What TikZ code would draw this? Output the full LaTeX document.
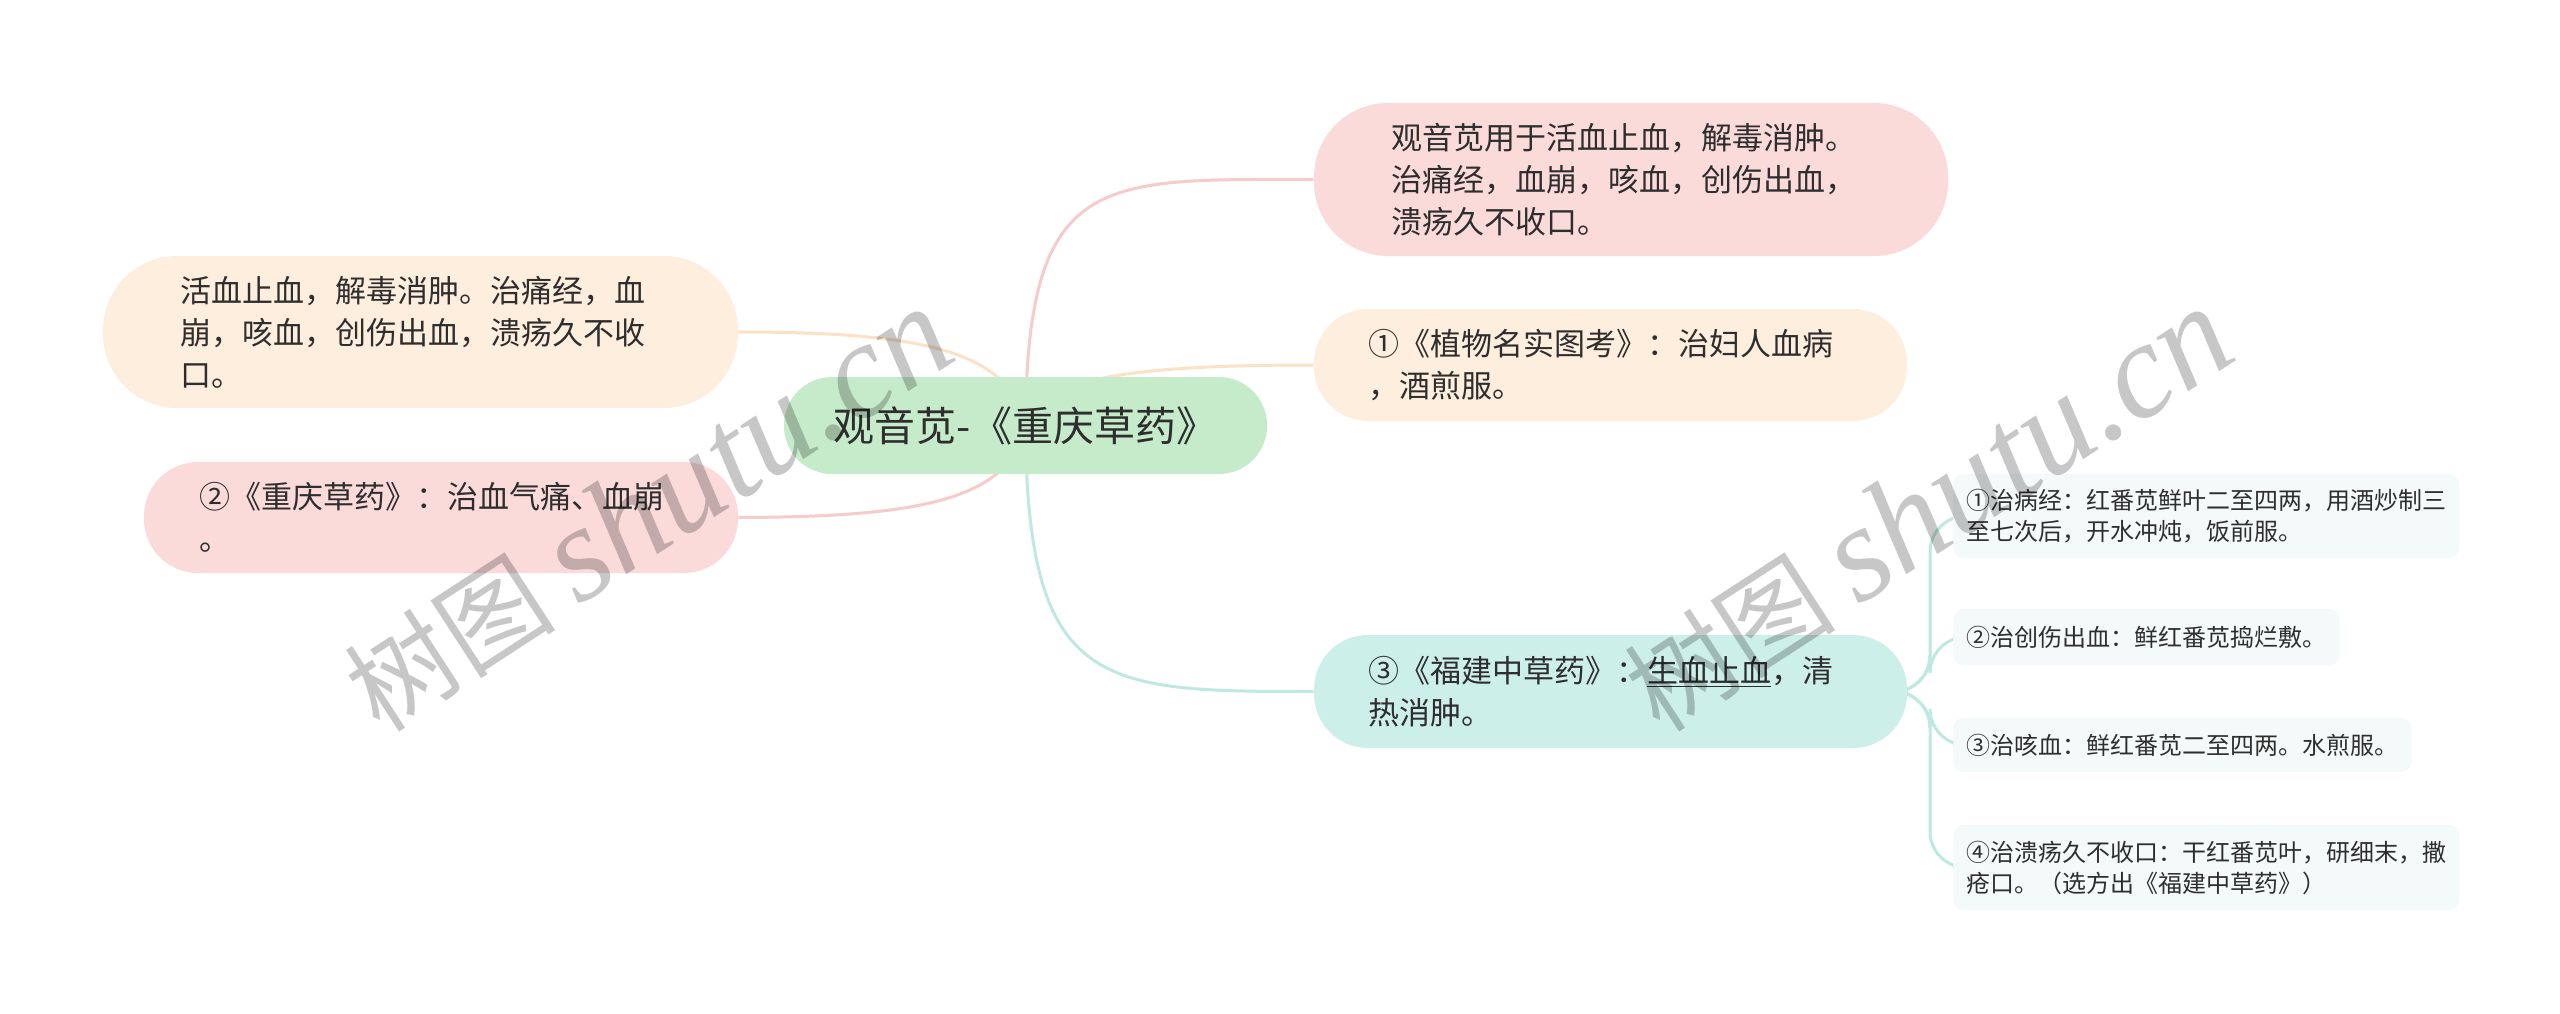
\documentclass[tikz,border=0pt]{standalone}
\usepackage{fontspec}
\setmainfont{Noto Sans CJK SC}
\newfontfamily\wmlat{Liberation Serif}
\newfontfamily\wmcjk{Noto Sans CJK SC}
\usetikzlibrary{backgrounds}
\definecolor{txt}{HTML}{2E2E2E}
\definecolor{rootfill}{HTML}{C6EBCB}
\definecolor{pinkfill}{HTML}{FBDADA}
\definecolor{creamfill}{HTML}{FDEEDD}
\definecolor{tealfill}{HTML}{CDEFE9}
\definecolor{leaffill}{HTML}{F3FAF9}
\definecolor{pinkline}{HTML}{F5CBCB}
\definecolor{creamline}{HTML}{FBE2C6}
\definecolor{tealline}{HTML}{BFE8E1}
\tikzset{
  mainbox/.style={rectangle, align=left, text=txt, inner ysep=0pt,
    font=\fontsize{15.5pt}{21pt}\selectfont},
  leafbox/.style={rectangle, align=left, text=txt, fill=leaffill, anchor=west,
    inner xsep=6.5pt, inner ysep=0pt, rounded corners=5pt,
    font=\fontsize{12pt}{15.5pt}\selectfont},
  link/.style={line width=1.5pt},
  wmark/.style={rotate=33, text=black, opacity=0.22, inner sep=0pt}
}
\begin{document}
\begin{tikzpicture}[x=0.5pt,y=-0.5pt]
\useasboundingbox (0,0) rectangle (2560,1013);

% root
\node[mainbox, fill=rootfill, align=center, minimum width=241.5pt, minimum height=48.5pt,
  rounded corners=24pt, font=\fontsize{20.5pt}{24pt}\selectfont] (root) at (1025.5,425.5) {观音苋-《重庆草药》};

% left
\node[mainbox, fill=creamfill, minimum width=317.5pt, minimum height=76pt, inner xsep=38.5pt,
  text width=240.5pt, rounded corners=37pt] (A) at (420.5,332)
  {活血止血，解毒消肿。治痛经，血\\崩，咳血，创伤出血，溃疡久不收\\口。};
\node[mainbox, fill=pinkfill, minimum width=297pt, minimum height=55.5pt, inner xsep=27.5pt,
  text width=242pt, rounded corners=27pt] (B) at (441,517.5)
  {②《重庆草药》：治血气痛、血崩\\。};

% right
\node[mainbox, fill=pinkfill, minimum width=317pt, minimum height=76.5pt, inner xsep=38.5pt,
  text width=240pt, rounded corners=37pt] (C) at (1631,179.5)
  {观音苋用于活血止血，解毒消肿。\\治痛经，血崩，咳血，创伤出血，\\溃疡久不收口。};
\node[mainbox, fill=creamfill, minimum width=296.5pt, minimum height=56pt, inner xsep=27pt,
  text width=242.5pt, rounded corners=27pt] (D) at (1610.5,365)
  {①《植物名实图考》：治妇人血病\\，酒煎服。};
\node[mainbox, fill=tealfill, minimum width=296.5pt, minimum height=56.5pt, inner xsep=27pt,
  text width=242.5pt, rounded corners=27pt] (E) at (1610.5,691.5)
  {③《福建中草药》：\underline{生血止血}，清\\热消肿。};

% leaves
\node[leafbox, minimum height=42pt] (L1) at (1953,516)
  {①治病经：红番苋鲜叶二至四两，用酒炒制三\\至七次后，开水冲炖，饭前服。};
\node[leafbox, minimum height=28pt] (L2) at (1953,637)
  {②治创伤出血：鲜红番苋捣烂敷。};
\node[leafbox, minimum height=27pt] (L3) at (1953,745)
  {③治咳血：鲜红番苋二至四两。水煎服。};
\node[leafbox, minimum height=42.5pt] (L4) at (1953,867.5)
  {④治溃疡久不收口：干红番苋叶，研细末，撒\\疮口。（选方出《福建中草药》）};

\coordinate (J) at (1930,691.5);

\begin{scope}[on background layer]
  \fill[white] (0,0) rectangle (2560,1013);
  \draw[link, creamline] (A.east) .. controls (920,332) and (1010,350) .. (root.center);
  \draw[link, pinkline] (B.east) .. controls (920,517) and (1010,500) .. (root.center);
  \draw[link, pinkline] (root.center) .. controls (1027,170) and (1100,179.5) .. (C.west);
  \draw[link, creamline] (root.center) .. controls (1040,380) and (1120,365) .. (D.west);
  \draw[link, tealline] (root.center) .. controls (1027,690) and (1100,691.5) .. (E.west);
  \foreach \L in {L1,L2,L3,L4}
    \draw[link, tealline, rounded corners=18pt] (E.east) -- (J) |- (\L.west);
\end{scope}

% watermarks
\node[wmark] (W1) at (648,510) {\wmcjk\fontsize{53pt}{53pt}\selectfont 树图 \wmlat\itshape\fontsize{68pt}{68pt}\selectfont shutu.cn};
\node[wmark] (W2) at (1928,510) {\wmcjk\fontsize{53pt}{53pt}\selectfont 树图 \wmlat\itshape\fontsize{68pt}{68pt}\selectfont shutu.cn};
\end{tikzpicture}
\end{document}
